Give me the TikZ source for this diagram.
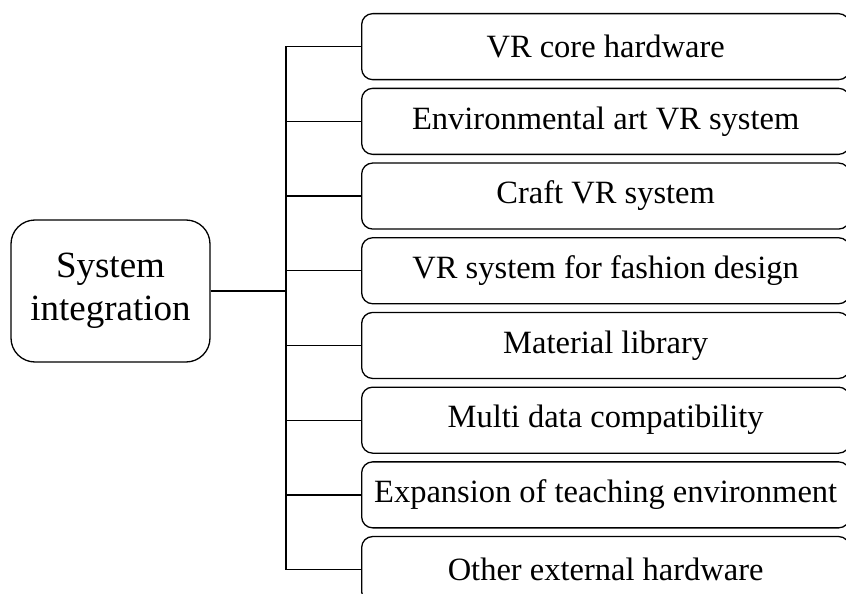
\documentclass[tikz,border=0pt]{standalone}
\usepackage{fontspec}
\setmainfont{Liberation Serif}
\usetikzlibrary{positioning}

\begin{document}
\begin{tikzpicture}[
    x=1pt, y=-1pt,
    root/.style={draw, rounded corners=24pt, line width=1.3pt,
                 minimum width=199pt, minimum height=142pt, align=center,
                 font=\fontsize{37}{43}\selectfont},
    item/.style={draw, rounded corners=11pt, line width=1.3pt,
                 minimum width=488pt, minimum height=66pt, inner sep=0pt,
                 font=\fontsize{32.5}{38}\selectfont},
    link/.style={line width=1.3pt}
  ]
  \useasboundingbox (0,0) rectangle (846,594);

  \node[root] (sys) at (110.5,291) {System\\integration};
  \coordinate (trunk) at (286,291);
  \draw[link] (sys.east) -- (trunk);

  \foreach \lbl [count=\i from 0] in {VR core hardware,
      Environmental art VR system, Craft VR system,
      VR system for fashion design, Material library,
      Multi data compatibility, Expansion of teaching environment,
      Other external hardware} {
    \node[item, anchor=north west] (sub\i) at (361, 13+74.7*\i) {\lbl};
    \draw[link] (sub\i.west) -| (trunk);
  }
\end{tikzpicture}
\end{document}
